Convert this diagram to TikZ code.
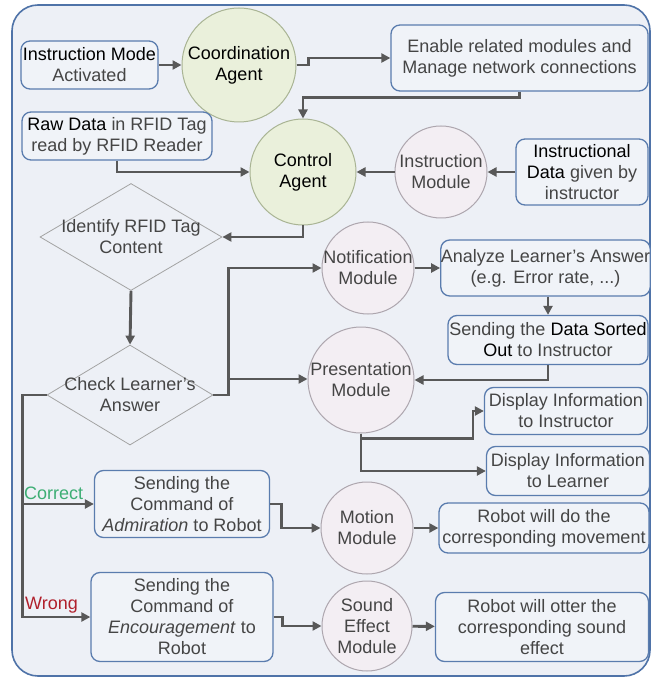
\documentclass[tikz,border=0pt]{standalone}
\usepackage{fontspec}
\setmainfont{Liberation Sans}
\usetikzlibrary{arrows.meta,shapes.geometric}
\definecolor{bg}{HTML}{EDF0F6}
\definecolor{boxfill}{HTML}{F0F3F8}
\definecolor{boxline}{HTML}{5A7CAE}
\definecolor{frameline}{HTML}{4F73A8}
\definecolor{greenfill}{HTML}{EAF0DB}
\definecolor{greenline}{HTML}{A9B494}
\definecolor{pinkfill}{HTML}{F3EEF3}
\definecolor{pinkline}{HTML}{ADA6AE}
\definecolor{txt}{HTML}{454545}
\definecolor{arrowc}{HTML}{585858}
\definecolor{dia}{HTML}{A3A3A3}
\definecolor{okgreen}{HTML}{3DAE74}
\definecolor{wrongred}{HTML}{B0202C}
\tikzset{
  every node/.style={font=\fontsize{18}{21}\selectfont, text=txt, align=center},
  box/.style={draw=boxline, line width=1.3pt, rounded corners=9pt, fill=boxfill, inner sep=0pt},
  gcirc/.style={circle, draw=greenline, line width=1pt, fill=greenfill, inner sep=-12pt},
  pcirc/.style={circle, draw=pinkline, line width=1pt, fill=pinkfill, inner sep=-12pt},
  dshape/.style={diamond, draw=dia, line width=0.8pt, inner sep=0pt},
  arr/.style={draw=arrowc, line width=2.9pt, -{Triangle[length=9pt,width=9pt]}}
}
\newcommand{\hl}[1]{\textcolor{black}{#1}}
\begin{document}
\begin{tikzpicture}[x=1pt,y=-1pt]
\useasboundingbox (0,0) rectangle (652,684);
\fill[white] (0,0) rectangle (652,684);
\draw[frameline, line width=1.6pt, fill=bg, rounded corners=26pt] (12,5) rectangle (650,676);

% nodes
\node[box, minimum width=137pt, minimum height=48pt] (im) at (89.5,65) {\hl{Instruction Mode}\\Activated};
\node[gcirc, minimum size=114pt] (coord) at (239,65) {\hl{Coordination}\\\hl{Agent}};
\node[box, minimum width=257pt, minimum height=66pt] (enable) at (519.5,58) {Enable related modules and\\Manage network connections};
\node[box, minimum width=190pt, minimum height=48pt] (raw) at (117,136) {\hl{Raw Data} in RFID Tag\\read by RFID Reader};
\node[gcirc, minimum size=106pt] (ctrl) at (303,172) {\hl{Control}\\\hl{Agent}};
\node[pcirc, minimum size=92pt] (instmod) at (441,172) {Instruction\\Module};
\node[box, minimum width=132pt, minimum height=66pt] (instdata) at (582,172) {\hl{Instructional}\\\hl{Data} given by\\instructor};

\node[dshape, minimum width=182pt, minimum height=107pt] (identify) at (131,237) {};
\node (identifyT) at (131,237) {Identify RFID Tag\\Content};
\node[dshape, minimum width=166pt, minimum height=100pt] (check) at (130,395) {};
\node (checkT) at (130,395) {Check Learner’s\\Answer};

\node[pcirc, minimum size=92pt] (notif) at (368,268) {Notification\\Module};
\node[box, minimum width=205pt, minimum height=56pt] (analyze) at (545.5,268) {Analyze Learner’s Answer\\(e.g. Error rate, ...)};
\node[box, minimum width=200pt, minimum height=49pt] (sending) at (548,340) {Sending the \hl{Data Sorted}\\\hl{Out} to Instructor};
\node[pcirc, minimum size=106pt] (pres) at (361,380) {Presentation\\Module};
\node[box, minimum width=163pt, minimum height=47pt] (dispI) at (566,411) {Display Information\\to Instructor};
\node[box, minimum width=163pt, minimum height=49pt] (dispL) at (568,471) {Display Information\\to Learner};

\node[pcirc, minimum size=92pt] (motion) at (367,528) {Motion\\Module};
\node[box, minimum width=210pt, minimum height=50pt] (move) at (544,528) {Robot will do the\\corresponding movement};
\node[pcirc, minimum size=90pt] (sound) at (367,626) {Sound\\Effect\\Module};
\node[box, minimum width=213pt, minimum height=69pt] (soundfx) at (542,627) {Robot will otter the\\corresponding sound\\effect};

\node[box, minimum width=175pt, minimum height=67pt] (admir) at (182,504) {Sending the\\Command of\\\textit{Admiration} to Robot};
\node[box, minimum width=182pt, minimum height=89pt] (encour) at (182,617) {Sending the\\Command of\\\textit{Encouragement} to\\Robot};

\node[text=okgreen, anchor=south west, inner sep=0pt] (correct) at (24,500) {Correct};
\node[text=wrongred, anchor=south west, inner sep=0pt] (wrong) at (25,613) {Wrong};

% connectors
\draw[arr] (im) -- (coord);
\draw[arr] (coord.east) -- ++(12,0) |- (enable.west);
\draw[arr] (enable.south) -- ++(0,6) -| (ctrl.north);
\draw[arr] (raw.south) |- (ctrl.west);
\draw[arr] (instmod) -- (ctrl);
\draw[arr] (instdata) -- (instmod);
\draw[arr] (ctrl.south) |- (identify.east);
\draw[arr] (identify.south) -- (check.north);
\draw[arr] (check.east) -- ++(15,0) |- (notif.west);
\draw[arr] ([xshift=15pt]check.east) -- ++(0,-16) -- (pres.west |- 0,379);
\draw[arr] (notif) -- (analyze);
\draw[arr] (sending.north |- analyze.south) -- (sending.north);
\draw[arr] (sending.south) |- (pres.east);
\draw[arr] (pres.south) -- ++(0,5) -- ++(112,0) |- (dispI.west);
\draw[arr] (pres.south) |- (dispL.west);
\draw[arr] (check.west) -- ++(-24,0) |- (encour.west);
\draw[arr] ([xshift=-24pt]check.west) |- (admir.west);
\draw[arr] (admir.east) -- ++(11,0) |- (motion.west);
\draw[arr] (encour.east) -- ++(9,0) |- (sound.west);
\draw[arr] (motion) -- (move);
\draw[arr] (sound) -- (soundfx);
\end{tikzpicture}
\end{document}
